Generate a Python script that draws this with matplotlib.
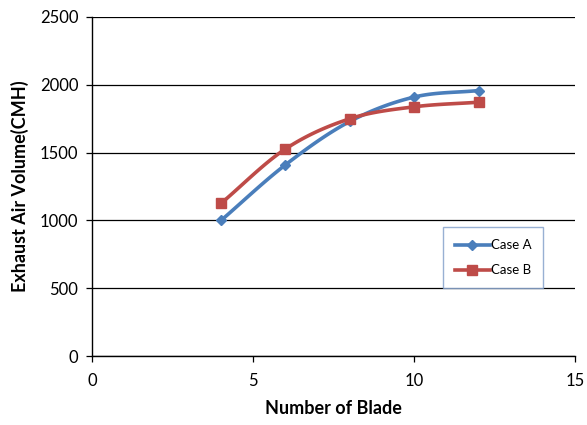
import numpy as np
import matplotlib
matplotlib.use('Agg')
import matplotlib.pyplot as plt

# Data
blades = [4, 6, 8, 10, 12]
case_a = [1000, 1410, 1730, 1910, 1958]
case_b = [1126, 1527, 1750, 1838, 1872]

x_ticks = [0, 5, 10, 15]
y_ticks = [0, 500, 1000, 1500, 2000, 2500]

plt.rcParams['font.family'] = ['Lato', 'DejaVu Sans']


def smooth(xs, ys, n=30):
    # Catmull-Rom style smoothing like Excel's "smoothed line"
    xs = np.asarray(xs, float)
    ys = np.asarray(ys, float)
    px = np.concatenate([[2 * xs[0] - xs[1]], xs, [2 * xs[-1] - xs[-2]]])
    py = np.concatenate([[2 * ys[0] - ys[1]], ys, [2 * ys[-1] - ys[-2]]])
    out_x, out_y = [], []
    t = np.linspace(0, 1, n)
    for i in range(1, len(px) - 2):
        for p, out in ((px, out_x), (py, out_y)):
            p0, p1, p2, p3 = p[i - 1], p[i], p[i + 1], p[i + 2]
            seg = 0.5 * ((2 * p1) + (-p0 + p2) * t +
                         (2 * p0 - 5 * p1 + 4 * p2 - p3) * t ** 2 +
                         (-p0 + 3 * p1 - 3 * p2 + p3) * t ** 3)
            out.extend(seg)
    return np.array(out_x), np.array(out_y)


fig = plt.figure(figsize=(5.87, 4.25), dpi=100)
ax = fig.add_axes([0.157, 0.162, 0.823, 0.798])

blue = '#4A7EBB'
red = '#BE4B48'

sx, sy = smooth(blades, case_a)
ax.plot(sx, sy, color=blue, lw=2.6, zorder=3)
ax.plot(blades, case_a, ls='none', marker='D', ms=5.5, color=blue, zorder=4)
ax.plot([], [], color=blue, lw=2.6, marker='D', ms=5.5, label='Case A')

sx, sy = smooth(blades, case_b)
ax.plot(sx, sy, color=red, lw=2.6, zorder=3)
ax.plot(blades, case_b, ls='none', marker='s', ms=7.5, color=red, zorder=4)
ax.plot([], [], color=red, lw=2.6, marker='s', ms=7.5, label='Case B')

ax.set_xlim(0, 15)
ax.set_ylim(0, 2500)
ax.set_xticks(x_ticks)
ax.set_yticks(y_ticks)
ax.yaxis.grid(True, color='#000000', lw=0.9)
ax.set_axisbelow(True)
for s in ['top', 'right']:
    ax.spines[s].set_visible(False)
for s in ['left', 'bottom']:
    ax.spines[s].set_color('#000000')
    ax.spines[s].set_linewidth(1.0)
ax.tick_params(axis='both', labelsize=12, direction='out', length=4, width=0.9, colors='#000000')
ax.tick_params(axis='x', pad=8)
ax.tick_params(axis='y', pad=6)

ax.set_xlabel('Number of Blade', fontsize=13, fontweight='bold', labelpad=8)
ax.set_ylabel('Exhaust Air Volume(CMH)', fontsize=13, fontweight='bold', labelpad=8)

leg = ax.legend(loc='upper left', bbox_to_anchor=(0.727, 0.38), fontsize=9.5,
                frameon=True, fancybox=False, handlelength=2.6, handletextpad=0.1,
                labelspacing=1.0, borderpad=0.9, borderaxespad=0)
leg.get_frame().set_edgecolor('#7F9DC9')
leg.get_frame().set_linewidth(1.0)

fig.savefig('out.png', dpi=100)
